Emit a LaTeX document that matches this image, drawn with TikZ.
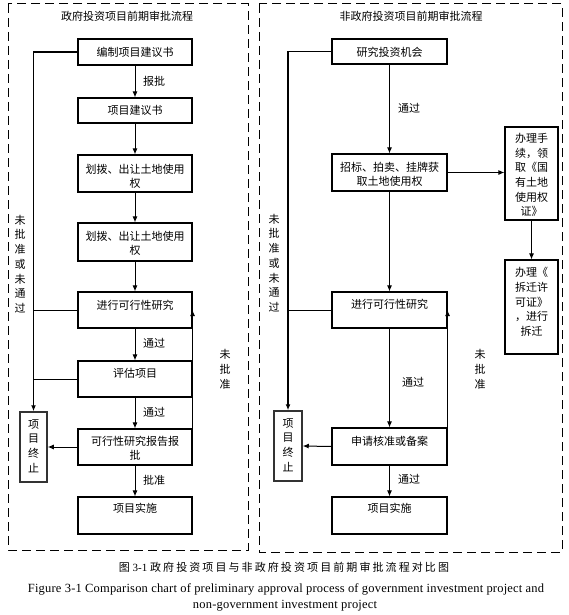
\documentclass[tikz,border=0pt]{standalone}
\usepackage{fontspec}
\setmainfont{Liberation Serif}
\newfontfamily\cjk{Noto Sans CJK SC}
\newfontfamily\cjkcap[LetterSpace=19]{Noto Sans CJK SC}
\newfontfamily\capfont[LetterSpace=1.5]{Liberation Serif}
\usetikzlibrary{arrows.meta}
\begin{document}
\begin{tikzpicture}[x=1pt,y=-1pt,
  box/.style={draw, line width=1.1pt, minimum width=114pt, inner sep=0pt},
  sidebox/.style={draw, line width=1.1pt, minimum width=53pt, minimum height=93pt, inner sep=0pt},
  stopbox/.style={draw=black!80, line width=1.5pt, minimum width=27pt, minimum height=70pt, inner sep=0pt},
  txt/.style={font=\cjk\fontsize{11}{14.5}\selectfont, align=center, inner sep=0pt},
  vtxt/.style={font=\cjk\fontsize{11}{14.7}\selectfont, align=center, inner sep=0pt},
  lbl/.style={font=\cjk\fontsize{11}{13}\selectfont, inner sep=0pt},
  arr/.style={-{Latex[length=6pt,width=5pt]}, line width=1pt},
  thickarr/.style={-{Latex[length=6pt,width=5pt]}, line width=1.5pt},
  ln/.style={line width=1pt},
  frame/.style={draw, line width=1pt, dash pattern=on 9pt off 5pt}]
\useasboundingbox (0,0) rectangle (569,615);
\fill[white] (0,0) rectangle (569,615);

% frames
\draw[frame] (8,4) rectangle (248,550);
\draw[frame] (259,4) rectangle (562,552);
\node[txt] (ttl1) at (127,16) {政府投资项目前期审批流程};
\node[txt] (ttl2) at (411,16) {非政府投资项目前期审批流程};

% ---------------- left panel ----------------
\node[box, minimum height=26pt] (b1) at (135,52) {};
\node[box, minimum height=25pt] (b2) at (135,110.5) {};
\node[box, minimum height=37pt] (b3) at (135,173.5) {};
\node[box, minimum height=38pt] (b4) at (135,242) {};
\node[box, minimum height=36pt] (b5) at (135,310) {};
\node[box, minimum height=36pt] (b6) at (135,379) {};
\node[box, minimum height=36pt] (b7) at (135,447) {};
\node[box, minimum height=37pt] (b8) at (135,515.5) {};
\node[stopbox] (st1) at (33.5,447) {};

\node[txt] (t1) at (135,52) {编制项目建议书};
\node[txt] (t2) at (135,110) {项目建议书};
\node[txt] (t3) at (135,176.5) {划拨、出让土地使用\\权};
\node[txt] (t4) at (135,243.5) {划拨、出让土地使用\\权};
\node[txt] (t5) at (135,305) {进行可行性研究};
\node[txt] (t6) at (135,373) {评估项目};
\node[txt] (t7) at (135,448) {可行性研究报告报\\批};
\node[txt] (t8) at (135,508) {项目实施};
\node[vtxt] (ts1) at (33.5,446) {项\\目\\终\\止};

\draw[arr] (b1.south) -- (b2.north);
\draw[arr] (b2.south) -- (b3.north);
\draw[arr] (b3.south) -- (b4.north);
\draw[arr] (b4.south) -- (b5.north);
\draw[arr] (b5.south) -- (b6.north);
\draw[arr] (b6.south) -- (b7.north);
\draw[arr] (b7.south) -- (b8.north);
\draw[arr] (b7.east) -- (b5.east);
\draw[thickarr] (b1.west) -| (st1.north);
\draw[ln] (b5.west) -- (b5.west -| st1.north);
\draw[ln] (b6.west) -- (b6.west -| st1.north);
\draw[arr] (b7.west) -- (st1.east);

\node[lbl] (l1) at (154,81) {报批};
\node[lbl] (l2) at (154,343) {通过};
\node[lbl] (l3) at (154,412) {通过};
\node[lbl] (l4) at (154,480) {批准};
\node[vtxt] (v1) at (20,264) {未\\批\\准\\或\\未\\通\\过};
\node[vtxt] (v2) at (225,369.5) {未\\批\\准};

% ---------------- right panel ----------------
\node[box, minimum width=115pt, minimum height=25pt] (r1) at (389.5,51.5) {};
\node[box, minimum width=115pt, minimum height=37pt] (r2) at (389.5,172.5) {};
\node[box, minimum width=115pt, minimum height=36pt] (r3) at (389.5,310) {};
\node[box, minimum width=115pt, minimum height=37pt] (r4) at (389.5,446.5) {};
\node[box, minimum width=115pt, minimum height=37pt] (r5) at (389.5,515.5) {};
\node[sidebox] (s1) at (531.5,173.5) {};
\node[sidebox, minimum height=94pt] (s2) at (531.5,307) {};
\node[stopbox, minimum width=28pt] (st2) at (288,446) {};

\node[txt] (u1) at (389.5,52) {研究投资机会};
\node[txt] (u2) at (389.5,174.5) {招标、拍卖、挂牌获\\取土地使用权};
\node[txt] (u3) at (389.5,304) {进行可行性研究};
\node[txt] (u4) at (389.5,441) {申请核准或备案};
\node[txt] (u5) at (389.5,508) {项目实施};
\node[vtxt] (us1) at (531.5,175) {办理手\\续，领\\取《国\\有土地\\使用权\\证》};
\node[vtxt] (us2) at (531.5,302) {办理《\\拆迁许\\可证》\\，进行\\拆迁};
\node[vtxt] (us3) at (288,445) {项\\目\\终\\止};

\draw[arr] (r1.south) -- (r2.north);
\draw[arr] (r2.south) -- (r3.north);
\draw[arr] (r3.south) -- (r4.north);
\draw[arr] (r4.south) -- (r5.north);
\draw[arr] (r4.east) -- (r3.east);
\draw[arr] (r2.east) -- (r2.east -| s1.west);
\draw[arr] (s1.south) -- (s2.north);
\draw[thickarr] (r1.west) -| (st2.north);
\draw[ln] (r3.west) -- (r3.west -| st2.north);
\draw[arr] (r4.west) -- (st2.east);

\node[lbl] (m1) at (409,108) {通过};
\node[lbl] (m2) at (413,382) {通过};
\node[lbl] (m3) at (409,479) {通过};
\node[vtxt] (w1) at (274,263) {未\\批\\准\\或\\未\\通\\过};
\node[vtxt] (w2) at (480,369.5) {未\\批\\准};

% ---------------- caption ----------------
\node[inner sep=0pt, font=\fontsize{11}{13}\selectfont] (cap1) at (284,567) {{\cjkcap 图} 3-1 {\cjkcap 政府投资项目与非政府投资项目前期审批流程对比图}};
\node[inner sep=0pt, font=\capfont\fontsize{12.5}{14}\selectfont] (cap2) at (286,589) {Figure 3-1 Comparison chart of preliminary approval process of government investment project and};
\node[inner sep=0pt, font=\capfont\fontsize{12.5}{14}\selectfont] (cap3) at (285,606) {non-government investment project};
\end{tikzpicture}
\end{document}
